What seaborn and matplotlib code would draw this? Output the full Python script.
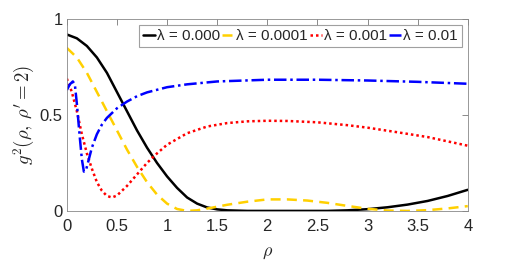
import numpy as np
import pandas as pd
import matplotlib
matplotlib.use("Agg")
import matplotlib.pyplot as plt
import seaborn as sns

# values
rho_black = [0, 0.1, 0.2, 0.3, 0.4, 0.5, 0.6, 0.7, 0.8, 0.9, 1.0, 1.1, 1.2, 1.3, 1.4,
             1.5, 1.6, 1.8, 2.0, 2.2, 2.4, 2.6, 2.8, 3.0, 3.2, 3.4, 3.6, 3.8, 4.0]
g_black = [0.92, 0.90, 0.86, 0.80, 0.72, 0.62, 0.52, 0.42, 0.33, 0.25, 0.18, 0.12, 0.07,
           0.038, 0.018, 0.008, 0.003, 0.0, 0.0, 0.0, 0.0, 0.0, 0.003, 0.009, 0.019,
           0.033, 0.052, 0.078, 0.11]

rho_yellow = [0, 0.1, 0.2, 0.3, 0.4, 0.5, 0.6, 0.7, 0.8, 0.9, 1.0, 1.1, 1.2, 1.3, 1.4,
              1.5, 1.6, 1.8, 2.0, 2.2, 2.4, 2.6, 2.8, 3.0, 3.2, 3.4, 3.6, 3.8, 4.0]
g_yellow = [0.85, 0.80, 0.72, 0.62, 0.52, 0.42, 0.32, 0.23, 0.15, 0.085, 0.038, 0.01,
            0.0, 0.003, 0.012, 0.022, 0.032, 0.048, 0.06, 0.06, 0.054, 0.042, 0.026,
            0.011, 0.002, 0.0, 0.004, 0.013, 0.025]

rho_red = [0, 0.05, 0.1, 0.15, 0.2, 0.25, 0.3, 0.35, 0.4, 0.45, 0.5, 0.6, 0.7, 0.8, 0.9,
           1.0, 1.2, 1.4, 1.6, 1.8, 2.0, 2.2, 2.5, 2.8, 3.0, 3.3, 3.6, 4.0]
g_red = [0.69, 0.62, 0.52, 0.40, 0.30, 0.22, 0.15, 0.105, 0.078, 0.07, 0.08, 0.13, 0.19,
         0.25, 0.30, 0.345, 0.405, 0.44, 0.458, 0.467, 0.47, 0.469, 0.462, 0.447, 0.434,
         0.41, 0.385, 0.34]

rho_blue = [0, 0.03, 0.06, 0.08, 0.1, 0.13, 0.15, 0.17, 0.19, 0.22, 0.25, 0.3, 0.35, 0.4,
            0.5, 0.6, 0.7, 0.8, 1.0, 1.2, 1.5, 2.0, 2.5, 3.0, 3.5, 4.0]
g_blue = [0.63, 0.66, 0.675, 0.66, 0.56, 0.38, 0.27, 0.205, 0.21, 0.27, 0.33, 0.40, 0.45,
          0.485, 0.535, 0.57, 0.598, 0.618, 0.645, 0.66, 0.675, 0.684, 0.684, 0.68,
          0.673, 0.663]

labels = ["λ = 0.000", "λ = 0.0001", "λ = 0.001", "λ = 0.01"]
colors = ["black", "#FFD000", "#FF0000", "#0000FF"]
dashes = ["-", (0, (4, 2.5)), (0, (1, 1.2)), (0, (5, 1.5, 1, 1.5))]

sns.set_style("white")
plt.rcParams["font.family"] = ["Liberation Sans", "DejaVu Sans"]
plt.rcParams["mathtext.fontset"] = "cm"

fig = plt.figure(figsize=(5.18, 2.62), dpi=100)
ax = fig.add_axes([0.129, 0.195, 0.774, 0.732])

series = [(rho_black, g_black), (rho_yellow, g_yellow), (rho_red, g_red), (rho_blue, g_blue)]
for (x, y), lab, col, ls in zip(series, labels, colors, dashes):
    df = pd.DataFrame({"rho": x, "g": y})
    sns.lineplot(data=df, x="rho", y="g", ax=ax, color=col, linestyle=ls,
                 linewidth=1.8, label=lab)

ax.set_xlim(0, 4)
ax.set_ylim(0, 1)
ax.set_xticks([0, 0.5, 1, 1.5, 2, 2.5, 3, 3.5, 4])
ax.set_xticklabels(["0", "0.5", "1", "1.5", "2", "2.5", "3", "3.5", "4"])
ax.set_yticks([0, 0.5, 1])
ax.set_yticklabels(["0", "0.5", "1"])
ax.tick_params(direction="in", top=True, right=True, length=4, width=0.6,
               color="#777777", labelsize=12, labelcolor="#262626")
ax.tick_params(axis="y", pad=3)
ax.tick_params(axis="x", pad=6)
for s in ax.spines.values():
    s.set_color("#888888")
    s.set_linewidth(0.6)

ax.set_xlabel(r"$\rho$", fontsize=13, color="#262626", labelpad=7)
ax.set_ylabel(r"$g^2(\rho,\,\rho'=2)$", fontsize=13.5, color="#262626")
ax.yaxis.set_label_coords(-0.075, 0.5)

leg = ax.legend(loc="upper right", ncol=4, fontsize=11, frameon=True,
                handlelength=0.8, handletextpad=0.15, columnspacing=0.1,
                borderpad=0.25, borderaxespad=0.4, fancybox=False)
leg.get_frame().set_edgecolor("#888888")
leg.get_frame().set_linewidth(0.8)

fig.savefig("out.png", dpi=100)
